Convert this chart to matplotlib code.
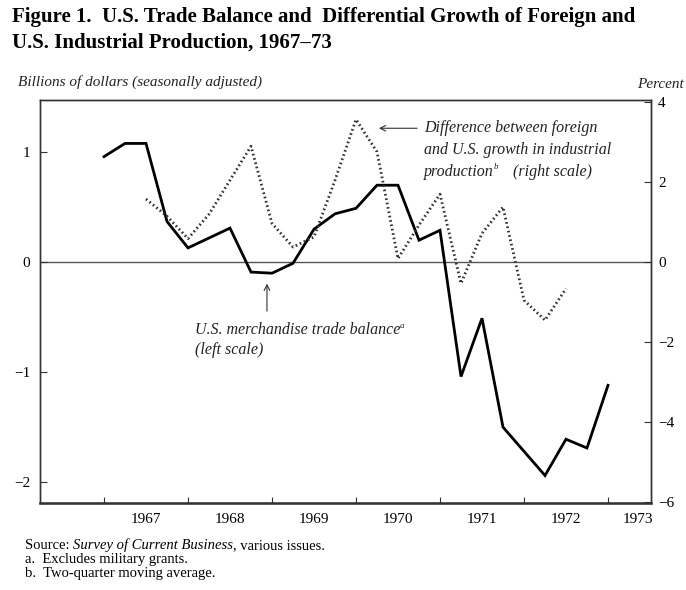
import numpy as np
import matplotlib.pyplot as plt

# dati (trimestrali)
quarters = [1967.00, 1967.25, 1967.50, 1967.75, 1968.00, 1968.25, 1968.50, 1968.75,
            1969.00, 1969.25, 1969.50, 1969.75, 1970.00, 1970.25, 1970.50, 1970.75,
            1971.00, 1971.25, 1971.50, 1971.75, 1972.00, 1972.25, 1972.50, 1972.75,
            1973.00]
trade_balance = [0.96, 1.08, 1.08, 0.37, 0.13, 0.22, 0.31, -0.09,
                 -0.10, -0.01, 0.30, 0.44, 0.49, 0.70, 0.70, 0.20,
                 0.29, -1.04, -0.51, -1.50, -1.72, -1.94, -1.61, -1.69,
                 -1.12]
diff_quarters = quarters[2:23]
diff_growth = [1.58, 1.15, 0.59, 1.20, 2.05, 2.90, 0.97, 0.38, 0.63, 2.05, 3.57,
               2.76, 0.09, 0.93, 1.70, -0.53, 0.72, 1.38, -0.95, -1.45, -0.66]

years = [1967, 1968, 1969, 1970, 1971, 1972, 1973]
left_ticks = [1, 0, -1, -2]
right_ticks = [4, 2, 0, -2, -4, -6]

plt.rcParams['font.family'] = 'Liberation Serif'
col = '#222222'

fig = plt.figure(figsize=(6.86, 5.90), dpi=100)
ax = fig.add_axes([40/686, 1-503/590, 611/686, 403/590])
ax2 = ax.twinx()

ylo, yhi = -2.19, 1.475
k = 110/40  # rapporto tra le scale sinistra/destra
ax.set_ylim(ylo, yhi)
ax2.set_ylim(ylo*k, yhi*k)
ax.set_xlim(1966.238, 1973.512)

ax.axhline(0, color='#555555', lw=1.0, zorder=1)
ax.plot(quarters, trade_balance, color='black', lw=2.0, solid_joinstyle='miter', zorder=3)
ax2.plot(diff_quarters, diff_growth, color='#333333', lw=2.0, linestyle=(0, (0.6, 1.0)), zorder=2)

# assi
for a in (ax, ax2):
    for s in a.spines.values():
        s.set_color('#333333')
        s.set_linewidth(1.0)
ax.spines['bottom'].set_linewidth(1.8)

ax.set_xticks(years)
ax.set_xticklabels([])
ax.tick_params(axis='x', direction='in', length=4, color='#333333')
ax.set_yticks(left_ticks)
ax.set_yticklabels(['1', '0', '\u22121', '\u22122'], fontsize=11)
ax.tick_params(axis='y', direction='in', length=5, pad=7, color='#333333')
ax2.set_yticks(right_ticks)
ax2.set_yticklabels(['4', '2', '0', '\u22122', '\u22124', '\u22126'], fontsize=11)
ax2.tick_params(axis='y', direction='in', length=5, pad=5, color='#333333')

# etichette anni centrate tra i tick
for y in years[:-1]:
    ax.text(y + 0.5, -0.025, str(y), transform=ax.get_xaxis_transform(),
            ha='center', va='top', fontsize=11)
ax.text(1973.36, -0.025, '1973', transform=ax.get_xaxis_transform(),
        ha='center', va='top', fontsize=11)

# titolo
fig.text(12/686, 1-17/590, 'Figure 1.  U.S. Trade Balance and  Differential Growth of Foreign and',
         fontsize=15, fontweight='bold', va='center', ha='left')
fig.text(12/686, 1-43/590, 'U.S. Industrial Production, 1967\u201373',
         fontsize=15, fontweight='bold', va='center', ha='left')

fig.text(18/686, 1-82/590, 'Billions of dollars (seasonally adjusted)', style='italic',
         fontsize=11, va='center', ha='left', color=col)
fig.text(684/686, 1-84/590, 'Percent', style='italic', fontsize=11, va='center', ha='right',
         color=col)

# annotazione linea tratteggiata
tx = 1970.81
ax.annotate('', xy=(1970.24, 1.218), xytext=(1970.76, 1.218),
            arrowprops=dict(arrowstyle='->', color='#333333', lw=0.8))
ax.text(tx, 1.218, 'Difference between foreign', style='italic', fontsize=11.5,
        ha='left', va='center', color=col)
ax.text(tx, 1.018, 'and U.S. growth in industrial', style='italic', fontsize=11.5,
        ha='left', va='center', color=col)
p3 = ax.text(tx, 0.818, 'production', style='italic', fontsize=11.5,
             ha='left', va='center', color=col)
ax.annotate('b', xy=(1, 0.55), xycoords=p3, fontsize=6.5, style='italic', va='bottom',
            color=col)
ax.text(1971.87, 0.818, '(right scale)', style='italic', fontsize=11.5, ha='left',
        va='center', color=col)

# annotazione linea continua
ax.annotate('', xy=(1968.94, -0.17), xytext=(1968.94, -0.47),
            arrowprops=dict(arrowstyle='->', color='#333333', lw=0.8))
t2 = ax.text(1968.08, -0.62, 'U.S. merchandise trade balance', style='italic', fontsize=11.5,
             ha='left', va='center', color=col)
ax.annotate('a', xy=(1, 0.55), xycoords=t2, fontsize=6.5, style='italic', va='bottom',
            color=col)
ax.text(1968.08, -0.80, '(left scale)', style='italic', fontsize=11.5, ha='left', va='center',
        color=col)

# note
s1 = fig.text(25/686, 1-552/590, 'Source: ', fontsize=10.5, va='bottom', ha='left')
s2 = plt.annotate('Survey of Current Business', xy=(1, 0), xycoords=s1, fontsize=10.5,
                  style='italic', va='bottom', ha='left')
plt.annotate(', various issues.', xy=(1, 0), xycoords=s2, fontsize=10.5, va='bottom', ha='left')
fig.text(25/686, 1-566/590, 'a.  Excludes military grants.', fontsize=10.5, va='bottom', ha='left')
fig.text(25/686, 1-580/590, 'b.  Two-quarter moving average.', fontsize=10.5, va='bottom', ha='left')

fig.savefig('out.png', dpi=100)
